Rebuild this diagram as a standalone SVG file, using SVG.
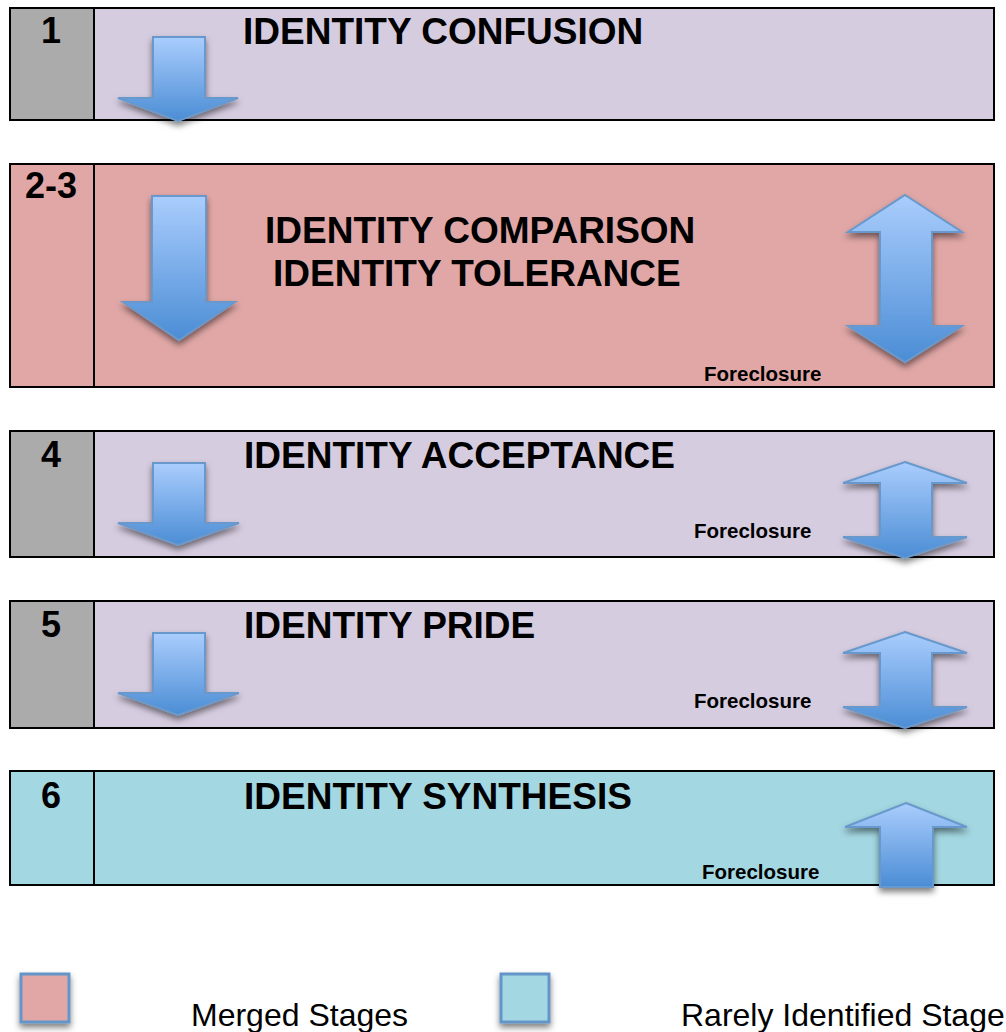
<svg xmlns="http://www.w3.org/2000/svg" width="1006" height="1032" viewBox="0 0 1006 1032">
  <defs>
    <linearGradient id="arrowGrad" x1="0" y1="0" x2="0" y2="1">
      <stop offset="0" stop-color="#aacdfd"/>
      <stop offset="1" stop-color="#4b8dd5"/>
    </linearGradient>
    <filter id="shadow" x="-30%" y="-30%" width="160%" height="160%">
      <feDropShadow dx="0" dy="4" stdDeviation="3" flood-color="#000" flood-opacity="0.5"/>
    </filter>
  </defs>
  <style>
    .box { stroke: #000; stroke-width: 2; }
    .lav { fill: #d6cce0; }
    .pink { fill: #e0a7a6; }
    .teal { fill: #a3d7e1; }
    .gray { fill: #ababab; }
    .div { stroke: #000; stroke-width: 2; }
    .num { font-family: "Liberation Sans", Arial, sans-serif; font-weight: bold; font-size: 36px; fill: #000; text-anchor: middle; }
    .title { font-family: "Liberation Sans", Arial, sans-serif; font-weight: bold; font-size: 37px; fill: #000; }
    .fore { font-family: "Liberation Sans", Arial, sans-serif; font-weight: bold; font-size: 20.5px; fill: #000; }
    .legend { font-family: "Liberation Sans", Arial, sans-serif; font-size: 32px; fill: #000; }
    .arrow { fill: url(#arrowGrad); stroke: #6898cc; stroke-width: 2; filter: url(#shadow); }
    .sw { stroke: #6495c8; stroke-width: 3; filter: url(#shadow); }
  </style>

  <g id="stage1">
    <rect class="lav" x="10" y="8" width="984" height="112"/>
    <rect class="gray" x="10" y="8" width="84" height="112"/>
    <rect class="box" x="10" y="8" width="984" height="112" fill="none"/>
    <line class="div" x1="94" y1="8" x2="94" y2="120"/>
    <text class="num" x="51" y="43">1</text>
    <text class="title" x="243" y="44">IDENTITY CONFUSION</text>
  </g>

  <g id="stage2-3">
    <rect class="pink" x="10" y="164" width="984" height="223"/>
    <rect class="box" x="10" y="164" width="984" height="223" fill="none"/>
    <line class="div" x1="94" y1="164" x2="94" y2="387"/>
    <text class="num" x="51" y="198">2-3</text>
    <text class="title" x="265" y="243">IDENTITY COMPARISON</text>
    <text class="title" x="273" y="286">IDENTITY TOLERANCE</text>
    <text class="fore" x="704" y="381">Foreclosure</text>
  </g>

  <g id="stage4">
    <rect class="lav" x="10" y="431" width="984" height="126"/>
    <rect class="gray" x="10" y="431" width="84" height="126"/>
    <rect class="box" x="10" y="431" width="984" height="126" fill="none"/>
    <line class="div" x1="94" y1="431" x2="94" y2="557"/>
    <text class="num" x="51" y="467">4</text>
    <text class="title" x="244" y="468">IDENTITY ACCEPTANCE</text>
    <text class="fore" x="694" y="538">Foreclosure</text>
  </g>

  <g id="stage5">
    <rect class="lav" x="10" y="601" width="984" height="127"/>
    <rect class="gray" x="10" y="601" width="84" height="127"/>
    <rect class="box" x="10" y="601" width="984" height="127" fill="none"/>
    <line class="div" x1="94" y1="601" x2="94" y2="728"/>
    <text class="num" x="51" y="637">5</text>
    <text class="title" x="244" y="638">IDENTITY PRIDE</text>
    <text class="fore" x="694" y="708">Foreclosure</text>
  </g>

  <g id="stage6">
    <rect class="teal" x="10" y="771" width="984" height="114"/>
    <rect class="box" x="10" y="771" width="984" height="114" fill="none"/>
    <line class="div" x1="94" y1="771" x2="94" y2="885"/>
    <text class="num" x="51" y="808">6</text>
    <text class="title" x="244" y="809">IDENTITY SYNTHESIS</text>
    <text class="fore" x="702" y="879">Foreclosure</text>
  </g>

  <g id="connectors">
    <path class="arrow" d="M153,37 H205 V98 H238 L178,121 L118,98 H153 Z"/>
    <path class="arrow" d="M152,196 H206 V302 H235 L179,340 L123,302 H152 Z"/>
    <path class="arrow" d="M153,463 H205 V523 H239 L178,545 L118,523 H153 Z"/>
    <path class="arrow" d="M153,633 H205 V693 H239 L178,715 L118,693 H153 Z"/>
    <path class="arrow" d="M905,195 L962,232 H932 V326 H962 L905,362 L848,326 H880 V232 H848 Z"/>
    <path class="arrow" d="M905,462 L967,483 H932 V537 H967 L905,558 L843,537 H880 V483 H843 Z"/>
    <path class="arrow" d="M905,632 L967,653 H932 V707 H967 L905,728 L843,707 H880 V653 H843 Z"/>
    <path class="arrow" d="M906,803 L967,827 H933 V887 H880 V827 H845 Z"/>
  </g>

  <g id="legend-merged">
    <rect class="pink sw" x="21" y="974" width="48" height="48"/>
    <text class="legend" x="191" y="1026">Merged Stages</text>
  </g>
  <g id="legend-rare">
    <rect class="teal sw" x="501" y="974" width="48" height="48"/>
    <text class="legend" x="681" y="1026">Rarely Identified Stage</text>
  </g>
</svg>
